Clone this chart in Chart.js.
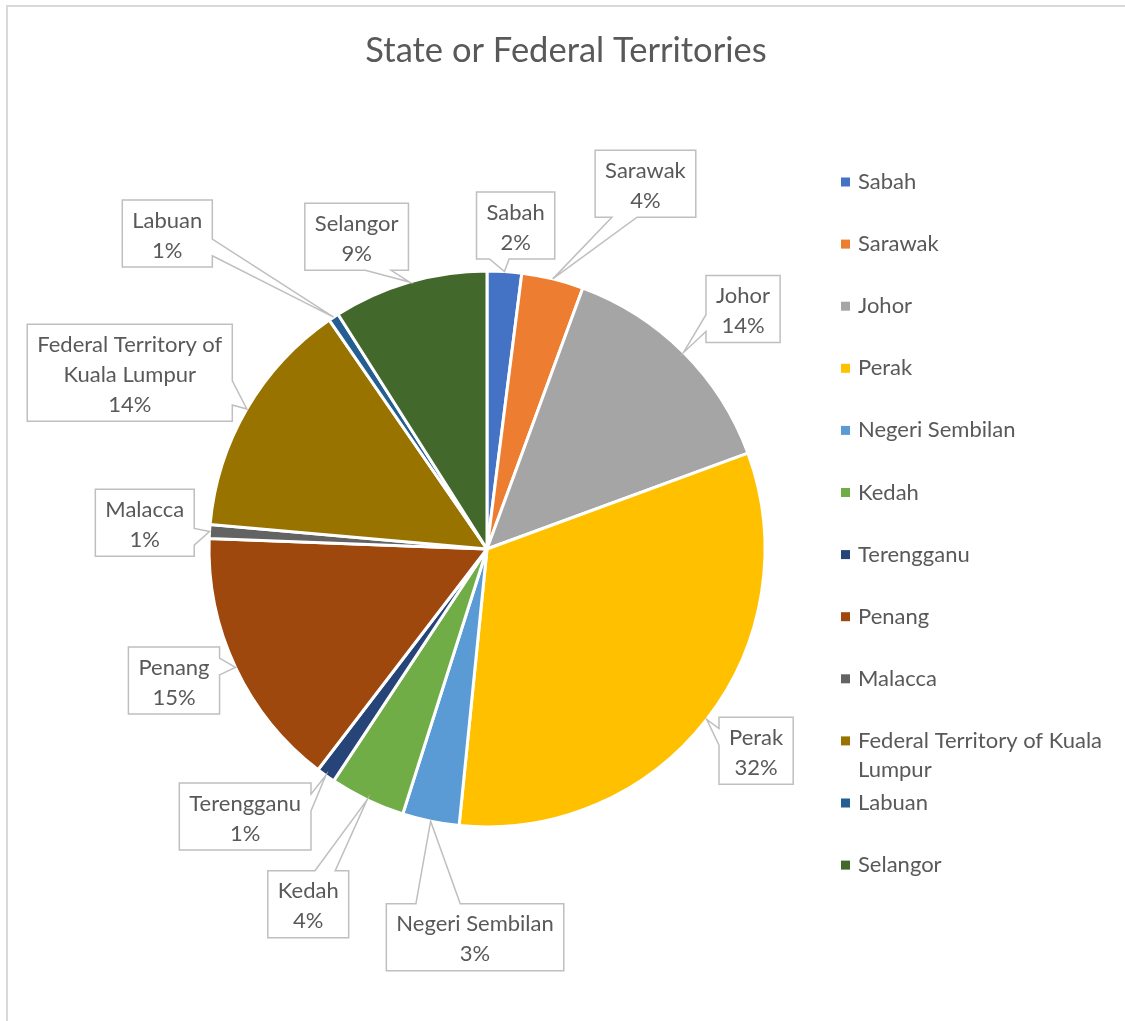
<!DOCTYPE html>
<html><head><meta charset="utf-8">
<script src="https://cdn.jsdelivr.net/npm/chart.js@4.4.0/dist/chart.umd.min.js"></script>
<style>html,body{margin:0;padding:0;background:#fff;overflow:hidden}#wrap{position:relative;width:1125px;height:1021px}</style>
</head><body><div id="wrap"><canvas id="c" width="1125" height="1021"></canvas></div>
<script>
const chartTitle = 'State or Federal Territories';
const categories = ['Sabah','Sarawak','Johor','Perak','Negeri Sembilan','Kedah','Terengganu','Penang','Malacca','Federal Territory of Kuala Lumpur','Labuan','Selangor'];
const shares = [2.0, 3.6, 13.8, 32.2, 3.3, 4.4, 1.1, 15.2, 0.8, 14.0, 0.6, 9.0];
const sliceColors = ['#4472C4','#ED7D31','#A5A5A5','#FFC000','#5B9BD5','#70AD47','#264478','#9E480E','#636363','#997300','#255E91','#43682B'];
// callout label centres, expressed in pie radii from the pie centre
const calloutOffsets = [[0.103,-1.164],[0.570,-1.314],[0.921,-0.863],[0.968,0.726],[-0.043,1.397],[-0.643,1.278],[-0.870,0.962],[-1.126,0.473],[-1.231,-0.094],[-1.285,-0.634],[-1.150,-1.135],[-0.469,-1.123]];

const FONT = 'Lato, "Open Sans", sans-serif';
const TEXT = '#595959';
const LABEL_FONT = '22px ' + FONT;

function wrap(ctx, text, maxW){
  const words = text.split(' '); const lines = []; let cur = '';
  for (const w of words){
    const t = cur ? cur + ' ' + w : w;
    if (cur && ctx.measureText(t).width > maxW){ lines.push(cur); cur = w; } else cur = t;
  }
  if (cur) lines.push(cur);
  return lines;
}

function calloutPath(ctx, l, t, r, b, tx, ty){
  const w = r - l, h = b - t, hc = (l + r) / 2, vc = (t + b) / 2;
  const dxPos = tx - hc, dyPos = ty - vc;
  const dxDy = Math.abs(dxPos * h) - Math.abs(dyPos * w);
  const x1 = l + w * (dxPos > 0 ? 7 : 2) / 12, x2 = l + w * (dxPos > 0 ? 10 : 5) / 12;
  const y1 = t + h * (dyPos > 0 ? 7 : 2) / 12, y2 = t + h * (dyPos > 0 ? 10 : 5) / 12;
  let side;
  if (tx >= l && tx <= r && ty >= t && ty <= b) side = 'none';
  else if (dxDy > 0) side = dxPos > 0 ? 'right' : 'left';
  else side = dyPos > 0 ? 'bottom' : 'top';
  ctx.beginPath();
  ctx.moveTo(l, t);
  if (side === 'top'){ ctx.lineTo(x1, t); ctx.lineTo(tx, ty); ctx.lineTo(x2, t); }
  ctx.lineTo(r, t);
  if (side === 'right'){ ctx.lineTo(r, y1); ctx.lineTo(tx, ty); ctx.lineTo(r, y2); }
  ctx.lineTo(r, b);
  if (side === 'bottom'){ ctx.lineTo(x2, b); ctx.lineTo(tx, ty); ctx.lineTo(x1, b); }
  ctx.lineTo(l, b);
  if (side === 'left'){ ctx.lineTo(l, y2); ctx.lineTo(tx, ty); ctx.lineTo(l, y1); }
  ctx.closePath();
}

const decor = {
  id: 'decor',
  beforeDraw(chart){
    const ctx = chart.ctx;
    ctx.save();
    ctx.fillStyle = '#fff'; ctx.fillRect(0, 0, chart.width, chart.height);
    ctx.strokeStyle = '#d9d9d9'; ctx.lineWidth = 2;
    ctx.strokeRect(7, 6, chart.width + 20, chart.height + 20);
    ctx.fillStyle = TEXT; ctx.font = '34.5px ' + FONT;
    ctx.textAlign = 'center'; ctx.textBaseline = 'middle';
    ctx.fillText(chartTitle, 566, 51);
    ctx.restore();
  },
  afterDatasetsDraw(chart){
    const ctx = chart.ctx;
    const meta = chart.getDatasetMeta(0);
    const data = chart.data.datasets[0].data;
    const total = data.reduce((a, b) => a + b, 0);
    ctx.save();
    ctx.font = LABEL_FONT;
    ctx.textAlign = 'center'; ctx.textBaseline = 'middle';
    meta.data.forEach((arc, i) => {
      const {x, y, startAngle, endAngle, outerRadius} = arc.getProps(['x','y','startAngle','endAngle','outerRadius'], true);
      const mid = (startAngle + endAngle) / 2;
      const tx = x + Math.cos(mid) * outerRadius, ty = y + Math.sin(mid) * outerRadius;
      const lines = wrap(ctx, chart.data.labels[i], 195);
      lines.push(Math.round(data[i] / total * 100) + '%');
      const tw = Math.max(...lines.map(s => ctx.measureText(s).width));
      const bw = tw + 20, bh = lines.length * 30 + 7;
      const cx = x + calloutOffsets[i][0] * outerRadius, cy = y + calloutOffsets[i][1] * outerRadius;
      const l = cx - bw / 2, t = cy - bh / 2;
      calloutPath(ctx, l, t, l + bw, t + bh, tx, ty);
      ctx.fillStyle = '#fff'; ctx.fill();
      ctx.strokeStyle = '#bfbfbf'; ctx.lineWidth = 1.5; ctx.stroke();
      ctx.fillStyle = TEXT;
      lines.forEach((s, k) => ctx.fillText(s, cx, cy - (lines.length - 1) * 15 + k * 30 + 2));
    });
    // legend
    ctx.textAlign = 'left';
    chart.data.labels.forEach((lab, i) => {
      const yy = 181 + i * 62.1;
      ctx.fillStyle = sliceColors[i];
      ctx.fillRect(841, yy - 3.5, 9, 9);
      ctx.fillStyle = TEXT;
      const lines = wrap(ctx, lab, 262);
      lines.forEach((s, k) => ctx.fillText(s, 858, yy + 1 + k * 29));
    });
    ctx.restore();
  }
};

new Chart(document.getElementById('c'), {
  type: 'pie',
  data: {
    labels: categories,
    datasets: [{
      data: shares,
      backgroundColor: sliceColors,
      borderColor: '#ffffff',
      borderWidth: 3,
      radius: 278
    }]
  },
  options: {
    responsive: false,
    animation: false,
    events: [],
    layout: { padding: { left: 200, right: 351, top: 262, bottom: 185 } },
    plugins: { legend: { display: false }, title: { display: false }, tooltip: { enabled: false } }
  },
  plugins: [decor]
});
</script></body></html>
